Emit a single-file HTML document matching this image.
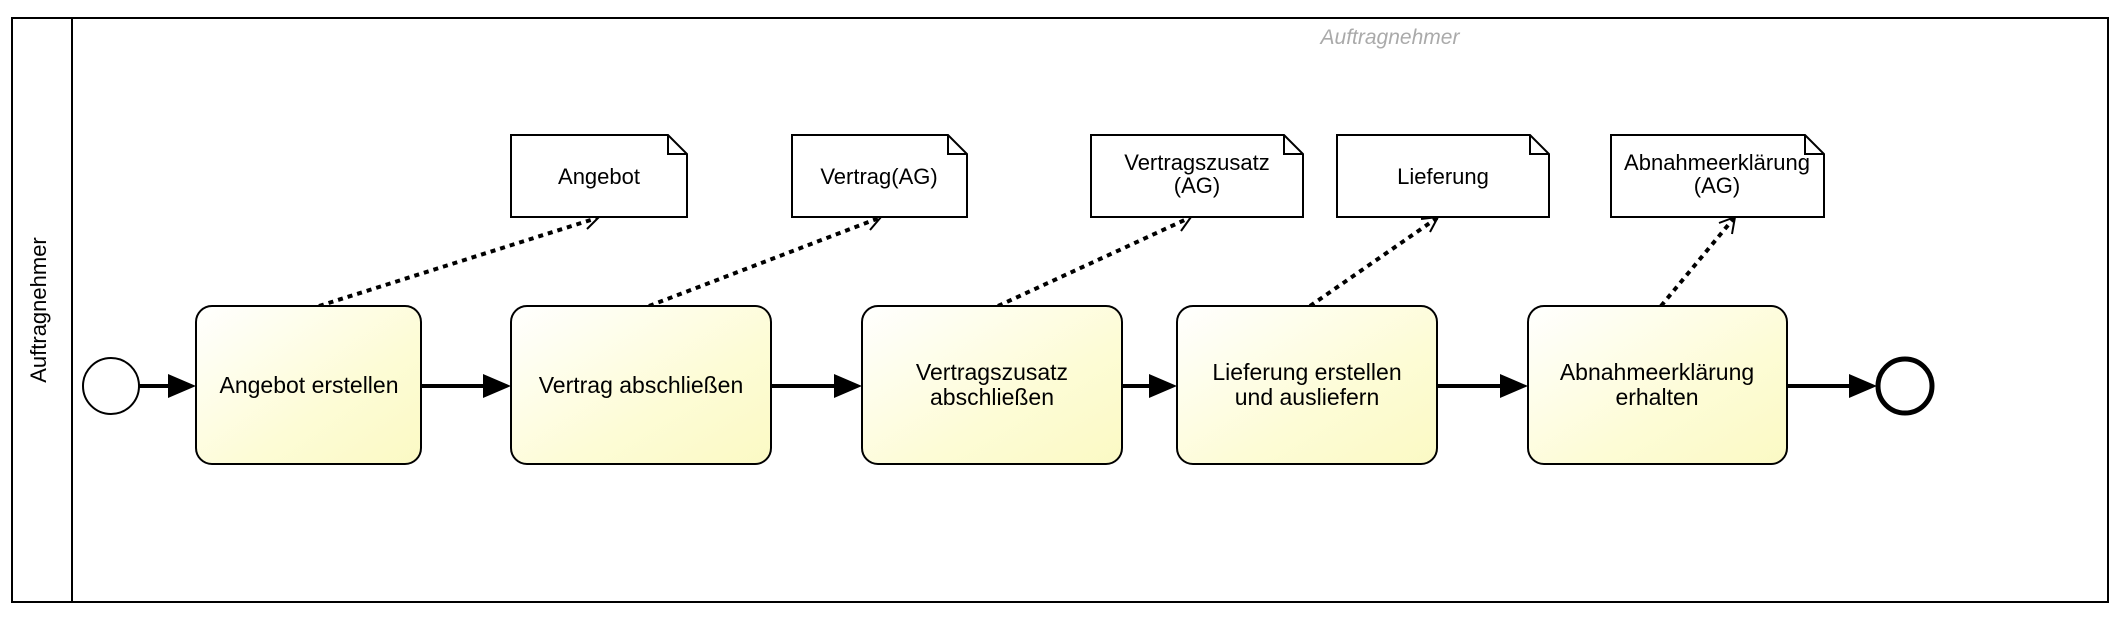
<!DOCTYPE html>
<html><head><meta charset="utf-8"><style>
html,body{margin:0;padding:0;background:#fff;}
svg{display:block;font-family:"Liberation Sans",sans-serif;}
</style></head><body>
<svg width="2122" height="627" viewBox="0 0 2122 627" xmlns="http://www.w3.org/2000/svg">
<defs>
<linearGradient id="g" x1="0" y1="0" x2="1" y2="1">
<stop offset="0" stop-color="#ffffff"/><stop offset="0.6" stop-color="#fdfcd6"/><stop offset="1" stop-color="#fbf9c4"/>
</linearGradient>
</defs>
<rect x="12" y="18" width="2096" height="584" fill="#fff" stroke="#000" stroke-width="2"/>
<line x1="72" y1="18" x2="72" y2="602" stroke="#000" stroke-width="2"/>
<text x="40" y="310" transform="rotate(-90 40 310)" text-anchor="middle" dominant-baseline="middle" font-size="22">Auftragnehmer</text>
<text x="1390" y="44" text-anchor="middle" font-size="21" font-style="italic" fill="#aaa">Auftragnehmer</text>

<g stroke="#000" stroke-width="4" stroke-dasharray="5,5" fill="none">
<line x1="319" y1="306" x2="597" y2="218"/>
<line x1="649" y1="306" x2="879" y2="218"/>
<line x1="998" y1="306" x2="1189" y2="218"/>
<line x1="1310" y1="306" x2="1437" y2="218"/>
<line x1="1661" y1="306" x2="1734" y2="218"/>
</g>
<g stroke="#000" stroke-width="2" fill="none">
<polyline points="587,229 599,217 582,214"/>
<polyline points="870,230 881,217 864,215"/>
<polyline points="1181,231 1191,217 1174,216"/>
<polyline points="1430,232 1438,217 1421,219"/>
<polyline points="1732,234 1735,217 1719,223"/>
</g>

<g stroke="#000" stroke-width="2" fill="#fff">
<path d="M511,135 H668 L687,154 V217 H511 Z"/><path d="M668,135 V154 H687" fill="none"/>
<path d="M792,135 H948 L967,154 V217 H792 Z"/><path d="M948,135 V154 H967" fill="none"/>
<path d="M1091,135 H1284 L1303,154 V217 H1091 Z"/><path d="M1284,135 V154 H1303" fill="none"/>
<path d="M1337,135 H1530 L1549,154 V217 H1337 Z"/><path d="M1530,135 V154 H1549" fill="none"/>
<path d="M1611,135 H1805 L1824,154 V217 H1611 Z"/><path d="M1805,135 V154 H1824" fill="none"/>
</g>
<g font-size="22" text-anchor="middle">
<text x="599" y="184">Angebot</text>
<text x="879" y="184">Vertrag(AG)</text>
<text x="1197" y="170">Vertragszusatz</text><text x="1197" y="193">(AG)</text>
<text x="1443" y="184">Lieferung</text>
<text x="1717" y="170">Abnahmeerklärung</text><text x="1717" y="193">(AG)</text>
</g>

<g stroke="#000" stroke-width="4">
<line x1="139" y1="386" x2="170" y2="386"/>
<line x1="421" y1="386" x2="486" y2="386"/>
<line x1="771" y1="386" x2="837" y2="386"/>
<line x1="1122" y1="386" x2="1152" y2="386"/>
<line x1="1437" y1="386" x2="1503" y2="386"/>
<line x1="1787" y1="386" x2="1850" y2="386"/>
</g>
<g fill="#000">
<polygon points="168,374 196,386 168,398"/>
<polygon points="483,374 511,386 483,398"/>
<polygon points="834,374 862,386 834,398"/>
<polygon points="1149,374 1177,386 1149,398"/>
<polygon points="1500,374 1528,386 1500,398"/>
<polygon points="1849,374 1877,386 1849,398"/>
</g>

<circle cx="111" cy="386" r="28" fill="#fff" stroke="#000" stroke-width="2"/>
<circle cx="1905" cy="386" r="27" fill="#fff" stroke="#000" stroke-width="5"/>

<g stroke="#000" stroke-width="2" fill="url(#g)">
<rect x="196" y="306" width="225" height="158" rx="16"/>
<rect x="511" y="306" width="260" height="158" rx="16"/>
<rect x="862" y="306" width="260" height="158" rx="16"/>
<rect x="1177" y="306" width="260" height="158" rx="16"/>
<rect x="1528" y="306" width="259" height="158" rx="16"/>
</g>
<g font-size="23" text-anchor="middle">
<text x="309" y="393">Angebot erstellen</text>
<text x="641" y="393">Vertrag abschließen</text>
<text x="992" y="380">Vertragszusatz</text><text x="992" y="405">abschließen</text>
<text x="1307" y="380">Lieferung erstellen</text><text x="1307" y="405">und ausliefern</text>
<text x="1657" y="380">Abnahmeerklärung</text><text x="1657" y="405">erhalten</text>
</g>
</svg>
</body></html>
